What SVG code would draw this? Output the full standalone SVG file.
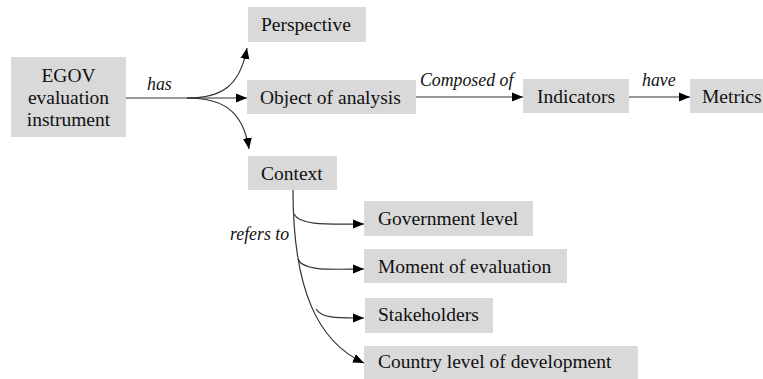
<svg xmlns="http://www.w3.org/2000/svg" width="763" height="379" viewBox="0 0 763 379">
<defs>
<style>
.box{fill:#d9d9d9;}
.t{font-family:'Liberation Serif','Times New Roman',serif;font-size:19.5px;fill:#111;}
.c{text-anchor:middle;}
.lbl{font-family:'Liberation Serif','Times New Roman',serif;font-size:17.8px;font-style:italic;fill:#111;}
.ln{fill:none;stroke:#333;stroke-width:1.2;}
.arr{marker-end:url(#ah);}
</style>
<marker id="ah" markerUnits="userSpaceOnUse" markerWidth="12" markerHeight="10" viewBox="0 0 12 10" refX="11" refY="5" orient="auto">
<path d="M0,0.5 L11,5 L0,9.5 z" fill="#000"/>
</marker>
</defs>
<rect width="763" height="379" fill="#fff"/>
<g id="connectors">
<path class="ln" d="M126,98 L187,98"/>
<path class="ln arr" d="M187,98 C222,98 240,86 247,48"/>
<path class="ln arr" d="M187,98 L247,98"/>
<path class="ln arr" d="M187,98 C222,98 243,110 249,149"/>
<path class="ln arr" d="M416,97 L523,97"/>
<path class="ln arr" d="M629,97 L690,97"/>
<path class="ln arr" d="M293,190 C293,290 318,342 364,363"/>
<path class="ln arr" d="M294,214 C300,226 330,224 364,224"/>
<path class="ln arr" d="M298,259 C303,272 335,269 364,269"/>
<path class="ln arr" d="M316,309 C322,319 340,318 364,318"/>
<text class="lbl" x="147" y="90">has</text>
<text class="lbl" x="420" y="86">Composed of</text>
<text class="lbl" x="642" y="86">have</text>
<text class="lbl" x="230" y="240">refers to</text>
</g>
<g id="egov">
<rect class="box" x="11" y="57" width="115" height="80"/>
<text class="t c" x="68.5" y="82">EGOV</text>
<text class="t c" x="68.5" y="104">evaluation</text>
<text class="t c" x="68.5" y="126">instrument</text>
</g>
<g id="perspective">
<rect class="box" x="248" y="7" width="118" height="35"/>
<text class="t" x="261" y="31">Perspective</text>
</g>
<g id="object">
<rect class="box" x="247" y="80" width="169" height="34"/>
<text class="t" x="260" y="103.5">Object of analysis</text>
</g>
<g id="context">
<rect class="box" x="248" y="156" width="89" height="34"/>
<text class="t" x="261" y="180">Context</text>
</g>
<g id="indicators">
<rect class="box" x="523" y="79" width="106" height="34"/>
<text class="t" x="537" y="103">Indicators</text>
</g>
<g id="metrics">
<rect class="box" x="690" y="79" width="73" height="34"/>
<text class="t" x="702" y="103">Metrics</text>
</g>
<g id="government">
<rect class="box" x="364" y="201" width="169" height="35"/>
<text class="t" x="378" y="225">Government level</text>
</g>
<g id="moment">
<rect class="box" x="364" y="249" width="203" height="34"/>
<text class="t" x="378" y="273">Moment of evaluation</text>
</g>
<g id="stakeholders">
<rect class="box" x="365" y="298" width="128" height="35"/>
<text class="t" x="378" y="321">Stakeholders</text>
</g>
<g id="country">
<rect class="box" x="364" y="346" width="274" height="34"/>
<text class="t" x="378" y="368">Country level of development</text>
</g>
</svg>
